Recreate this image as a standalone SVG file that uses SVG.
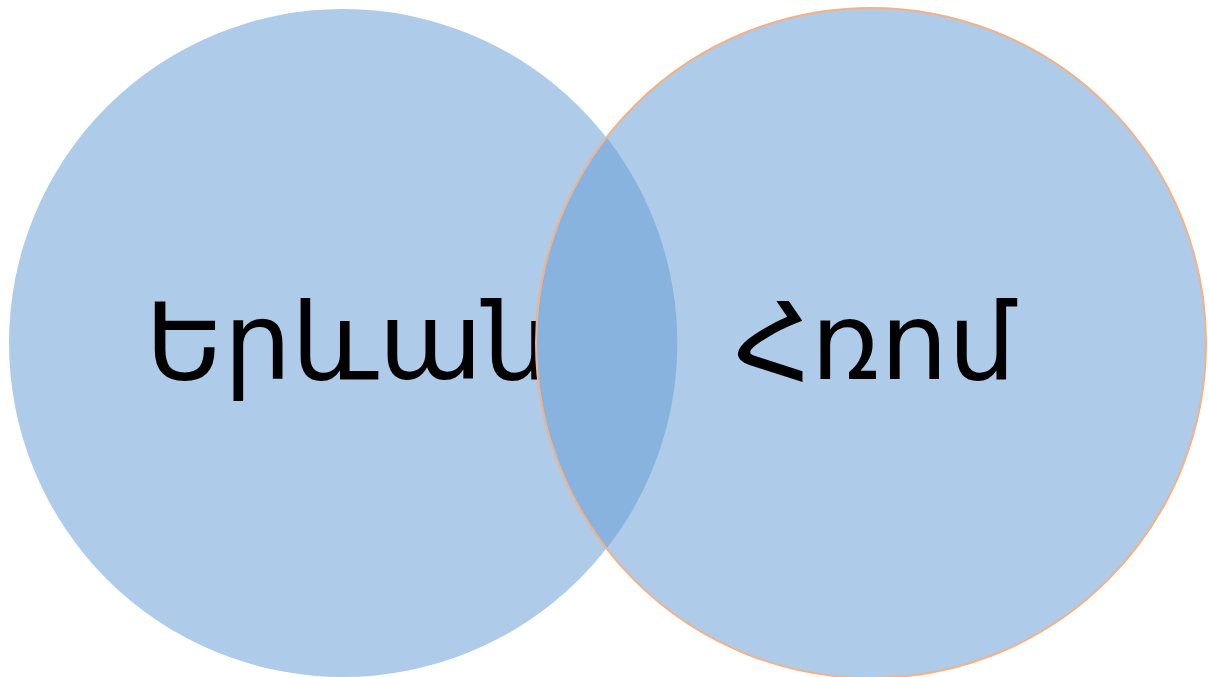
<svg xmlns="http://www.w3.org/2000/svg" width="1208" height="677" viewBox="0 0 1208 677">
<style>
.c{fill:#aecbea}
.t{font-family:"DejaVu Sans","Noto Sans",sans-serif;font-size:107px;fill:#000;text-anchor:middle}
</style>
<rect width="1208" height="677" fill="#fff"/>
<g id="yerevan">
<circle class="c" cx="343" cy="343" r="334"/>
<text class="t" x="348" y="379">Երևան</text>
</g>
<g id="rome">
<circle class="c" cx="871" cy="343" r="335"/>
<path d="M607 138 A334 334 0 0 1 607 548 A335 335 0 0 1 607 138 Z" fill="#87b3de"/>
<circle cx="871" cy="343" r="335" fill="none" stroke="#f4b183" stroke-width="2"/>
<text class="t" x="875" y="379">Հռոմ</text>
</g>
<g id="connectors"/>
</svg>
